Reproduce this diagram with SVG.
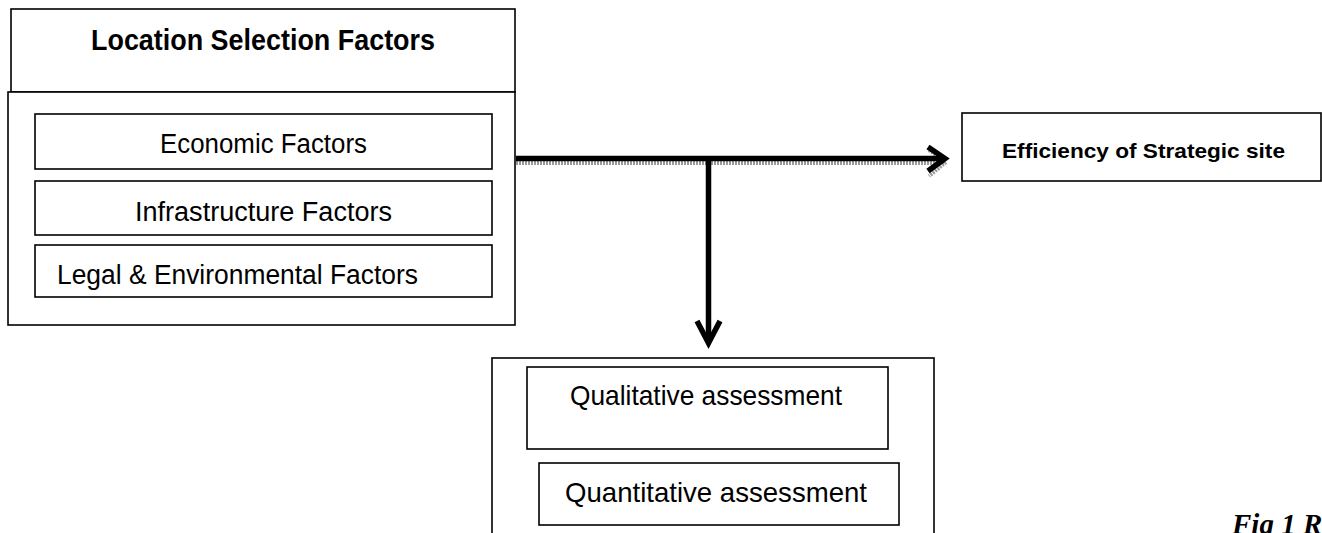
<svg xmlns="http://www.w3.org/2000/svg" width="1322" height="533" viewBox="0 0 1322 533">
<style>
.box{fill:#fff;stroke:#000;stroke-width:1.6}
.t{font-family:"Liberation Sans",Arial,sans-serif;fill:#000}
.b{font-weight:bold}
.cap{font-family:"Liberation Serif","Times New Roman",serif;font-style:italic;font-weight:bold;fill:#000}
.ln{stroke:#000;stroke-width:5.5;fill:none}
.sh{stroke:#9a9a9a;stroke-width:4;fill:none;stroke-dasharray:2 1}
</style>
<rect width="1322" height="533" fill="#fff"/>
<g id="location-selection-factors">
<rect class="box" x="11" y="9" width="504" height="83"/>
<text class="t b" x="91" y="50" font-size="29" textLength="344" lengthAdjust="spacingAndGlyphs">Location Selection Factors</text>
</g>
<g id="factors-container">
<rect class="box" x="8" y="92" width="507" height="233"/>
</g>
<g id="economic-factors">
<rect class="box" x="35" y="114" width="457" height="55"/>
<text class="t" x="160" y="153" font-size="27" textLength="207" lengthAdjust="spacingAndGlyphs">Economic Factors</text>
</g>
<g id="infrastructure-factors">
<rect class="box" x="35" y="181" width="457" height="54"/>
<text class="t" x="135" y="221" font-size="27" textLength="257" lengthAdjust="spacingAndGlyphs">Infrastructure Factors</text>
</g>
<g id="legal-environmental-factors">
<rect class="box" x="35" y="245" width="457" height="52"/>
<text class="t" x="57" y="284" font-size="27" textLength="361" lengthAdjust="spacingAndGlyphs">Legal &amp; Environmental Factors</text>
</g>
<g id="efficiency-of-strategic-site">
<rect class="box" x="962" y="113" width="359" height="68" stroke-width="2"/>
<text class="t b" x="1002" y="158" font-size="21" textLength="283" lengthAdjust="spacingAndGlyphs">Efficiency of Strategic site</text>
</g>
<g id="assessment-container">
<rect class="box" x="492" y="358" width="442" height="190"/>
</g>
<g id="qualitative-assessment">
<rect class="box" x="527" y="367" width="361" height="82"/>
<text class="t" x="570" y="405" font-size="28" textLength="272" lengthAdjust="spacingAndGlyphs">Qualitative assessment</text>
</g>
<g id="quantitative-assessment">
<rect class="box" x="539" y="463" width="360" height="62"/>
<text class="t" x="565" y="502" font-size="28" textLength="302" lengthAdjust="spacingAndGlyphs">Quantitative assessment</text>
</g>
<g id="connectors">
<path class="sh" d="M516 163 H944"/>
<path class="sh" d="M929 150 L946 162 L929 176"/>
<path class="ln" d="M516 158.5 H944"/>
<path class="ln" d="M928 147 L945 158.5 L928 171"/>
<path class="ln" d="M708.5 158.5 V342"/>
<path class="ln" d="M697 321 L708.5 343 L720 321"/>
</g>
<text class="cap" x="1232" y="534" font-size="29">Fig 1 Research</text>
</svg>
